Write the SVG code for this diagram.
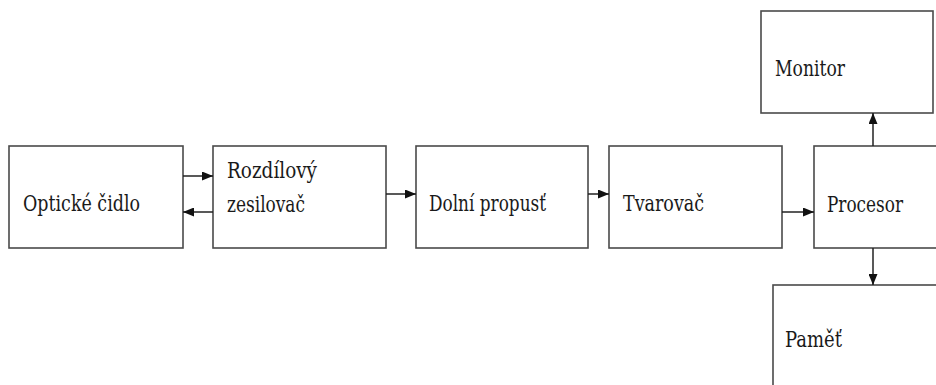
<svg xmlns="http://www.w3.org/2000/svg" width="936" height="385" viewBox="0 0 936 385">
<style>
.box{fill:#fff;stroke:#4a4a4a;stroke-width:1.6}
.con{stroke:#222;stroke-width:1.5;fill:none}
.lbl{font-family:"DejaVu Serif","Liberation Serif",serif;font-size:23px;fill:#1a1a1a}
</style>
<defs>
<marker id="ah" viewBox="0 0 11 9" refX="11" refY="4.5" markerUnits="userSpaceOnUse" markerWidth="11" markerHeight="9" orient="auto">
<path d="M0,0 L11,4.5 L0,9 Z" fill="#111"/>
</marker>
</defs>
<rect width="936" height="385" fill="#fff"/>
<g id="optic"><rect class="box" x="9" y="146" width="174" height="102"/><text class="lbl" x="23" y="211" textLength="117" lengthAdjust="spacingAndGlyphs">Optické čidlo</text></g>
<g id="rozdil"><rect class="box" x="213" y="146" width="173" height="102"/><text class="lbl" x="227" y="178" textLength="90" lengthAdjust="spacingAndGlyphs">Rozdílový</text><text class="lbl" x="227" y="212" textLength="78" lengthAdjust="spacingAndGlyphs">zesilovač</text></g>
<g id="dolni"><rect class="box" x="416" y="146" width="172" height="102"/><text class="lbl" x="429" y="211" textLength="117" lengthAdjust="spacingAndGlyphs">Dolní propusť</text></g>
<g id="tvarovac"><rect class="box" x="609" y="146" width="173" height="102"/><text class="lbl" x="623" y="211" textLength="81" lengthAdjust="spacingAndGlyphs">Tvarovač</text></g>
<g id="procesor"><rect class="box" x="814" y="146" width="130" height="102"/><text class="lbl" x="827" y="212" textLength="76" lengthAdjust="spacingAndGlyphs">Procesor</text></g>
<g id="monitor"><rect class="box" x="761" y="11" width="172" height="102" stroke-width="2.2"/><text class="lbl" x="775" y="76" textLength="70" lengthAdjust="spacingAndGlyphs">Monitor</text></g>
<g id="pamet"><rect class="box" x="773" y="285" width="180" height="120" stroke-width="2.2"/><text class="lbl" x="785" y="347" textLength="57" lengthAdjust="spacingAndGlyphs">Paměť</text></g>
<g id="connectors">
<line class="con" x1="183" y1="176" x2="213" y2="176" marker-end="url(#ah)"/>
<line class="con" x1="213" y1="212" x2="183" y2="212" marker-end="url(#ah)"/>
<line class="con" x1="386" y1="194" x2="416" y2="194" stroke-width="2.6" marker-end="url(#ah)"/>
<line class="con" x1="588" y1="194" x2="609" y2="194" stroke-width="2.6" marker-end="url(#ah)"/>
<line class="con" x1="782" y1="212" x2="814" y2="212" marker-end="url(#ah)"/>
<line class="con" x1="873" y1="146" x2="873" y2="113" marker-end="url(#ah)"/>
<line class="con" x1="873" y1="248" x2="873" y2="285" marker-end="url(#ah)"/>
</g>
</svg>
